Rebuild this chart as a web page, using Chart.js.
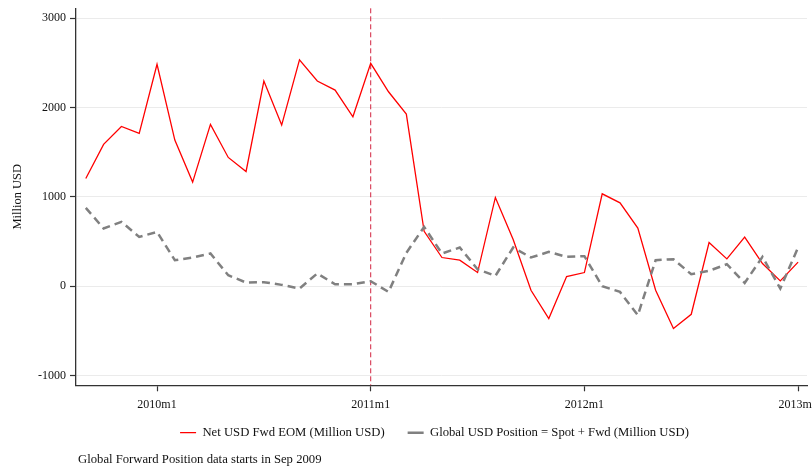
<!DOCTYPE html>
<html>
<head>
<meta charset="utf-8">
<title>Net USD forward vs global USD position</title>
<script src="https://cdn.jsdelivr.net/npm/chart.js@4/dist/chart.umd.min.js"></script>
<style>
  html, body { margin: 0; padding: 0; background: #ffffff; overflow: hidden; }
  #wrap { position: relative; width: 869px; height: 469px; }
  #note {
    position: absolute; left: 78px; top: 451.5px;
    font: 12.7px "Liberation Serif", "Times New Roman", serif;
    line-height: 15px; color: #111; white-space: nowrap;
  }
</style>
</head>
<body>
<div id="wrap">
  <canvas id="chart" width="869" height="469"></canvas>
  <div id="note">Global Forward Position data starts in Sep 2009</div>
</div>
<script>
// Monthly observations, Sep 2009 – Jan 2013
const months = [
  '2009m9','2009m10','2009m11','2009m12',
  '2010m1','2010m2','2010m3','2010m4','2010m5','2010m6','2010m7','2010m8','2010m9','2010m10','2010m11','2010m12',
  '2011m1','2011m2','2011m3','2011m4','2011m5','2011m6','2011m7','2011m8','2011m9','2011m10','2011m11','2011m12',
  '2012m1','2012m2','2012m3','2012m4','2012m5','2012m6','2012m7','2012m8','2012m9','2012m10','2012m11','2012m12',
  '2013m1'
];

// Net USD forward position at end of month (million USD)
const netFwdEOM = [
  1206, 1587, 1788, 1710, 2483, 1635, 1165, 1811, 1441, 1284, 2296, 1803,
  2534, 2296, 2195, 1896, 2494, 2176, 1926, 615, 321, 291, 153, 993,
  523, -45, -362, 108, 153, 1034, 933, 650, -45, -474, -314, 489,
  306, 549, 254, 60, 269
];

// Global USD position = spot + forward (million USD)
const globalUSD = [
  877, 646, 720, 552, 608, 291, 321, 366, 123, 41, 45, 15,
  -26, 142, 22, 22, 56, -64, 373, 664, 366, 433, 190, 115,
  433, 321, 384, 328, 336, 0, -64, -325, 291, 302, 134, 172,
  246, 37, 328, -26, 433
];

const xTickLabels = ['2010m1', '2011m1', '2012m1', '2013m1'];
const yTickValues = [-1000, 0, 1000, 2000, 3000];
const markerMonth = '2011m1';

// months counted from Jan 2010
function monthIndex(label) {
  const [y, m] = label.split('m').map(Number);
  return (y - 2010) * 12 + (m - 1);
}
const monthByIndex = {};
months.forEach(m => { monthByIndex[monthIndex(m)] = m; });

const serif = '"Liberation Serif", "Times New Roman", serif';
const ink = '#111111';

const toPoints = values => values.map((v, i) => ({ x: monthIndex(months[i]), y: v }));

// dashed vertical reference line
const markerLine = {
  id: 'markerLine',
  beforeDatasetsDraw(chart) {
    const { ctx, chartArea, scales } = chart;
    const x = scales.x.getPixelForValue(monthIndex(markerMonth));
    ctx.save();
    ctx.strokeStyle = '#d2233f';
    ctx.lineWidth = 1;
    ctx.setLineDash([5, 3]);
    ctx.beginPath();
    ctx.moveTo(x, chartArea.top);
    ctx.lineTo(x, chartArea.bottom);
    ctx.stroke();
    ctx.restore();
  }
};

// pull the legend up so it sits just under the axis labels
const legendOffset = {
  id: 'legendOffset',
  afterLayout(chart) {
    const lg = chart.legend;
    if (!lg) return;
    const top = chart.chartArea.bottom + 18;
    lg.bottom = top + lg.height;
    lg.top = top;
  }
};

new Chart(document.getElementById('chart'), {
  type: 'line',
  data: {
    datasets: [
      {
        label: 'Net USD Fwd EOM (Million USD)',
        data: toPoints(netFwdEOM),
        borderColor: '#ff0000',
        backgroundColor: '#ff0000',
        borderWidth: 1.3,
        pointRadius: 0,
        tension: 0,
        order: 2
      },
      {
        label: 'Global USD Position = Spot + Fwd (Million USD)',
        data: toPoints(globalUSD),
        borderColor: '#808080',
        backgroundColor: '#808080',
        borderWidth: 2.5,
        borderDash: [8, 5],
        pointRadius: 0,
        tension: 0,
        order: 1
      }
    ]
  },
  options: {
    responsive: false,
    animation: false,
    events: [],
    layout: { padding: { top: 8.3, right: 0, bottom: 8, left: 0 } },
    scales: {
      x: {
        type: 'linear',
        min: -4.55,
        max: 36.5,
        afterFit(scale) {
          scale.height = 30;
          scale.paddingLeft = 0;
          scale.paddingRight = 62;
        },
        afterBuildTicks(scale) {
          scale.ticks = xTickLabels.map(l => ({ value: monthIndex(l) }));
        },
        ticks: {
          autoSkip: false,
          maxRotation: 0,
          padding: 6,
          color: ink,
          font: { family: serif, size: 12 },
          callback: v => monthByIndex[v]
        },
        grid: {
          drawOnChartArea: false,
          drawTicks: true,
          tickLength: 6,
          tickColor: '#333333',
          tickWidth: 1.2
        },
        border: { color: '#333333', width: 1.3 }
      },
      y: {
        type: 'linear',
        min: -1109,
        max: 3110,
        afterFit(scale) {
          scale.width = 76;
          scale.paddingTop = 0;
          scale.paddingBottom = 0;
        },
        afterBuildTicks(scale) {
          scale.ticks = yTickValues.map(v => ({ value: v }));
        },
        ticks: {
          padding: 4,
          color: ink,
          font: { family: serif, size: 12 },
          callback: v => String(v)
        },
        grid: {
          color: '#ebebeb',
          lineWidth: 1,
          drawTicks: true,
          tickLength: 6,
          tickColor: '#333333',
          tickWidth: 1.2
        },
        border: { color: '#333333', width: 1.3 },
        title: {
          display: true,
          text: 'Million USD',
          color: ink,
          font: { family: serif, size: 12.5 },
          padding: { top: 10.5, bottom: 0 }
        }
      }
    },
    plugins: {
      legend: {
        position: 'bottom',
        align: 'center',
        maxHeight: 50,
        labels: {
          usePointStyle: true,
          pointStyle: 'line',
          pointStyleWidth: 16,
          padding: 23,
          color: ink,
          font: { family: serif, size: 12.7 },
          sort: (a, b) => a.datasetIndex - b.datasetIndex
        }
      },
      tooltip: { enabled: false }
    }
  },
  plugins: [markerLine, legendOffset]
});
</script>
</body>
</html>
